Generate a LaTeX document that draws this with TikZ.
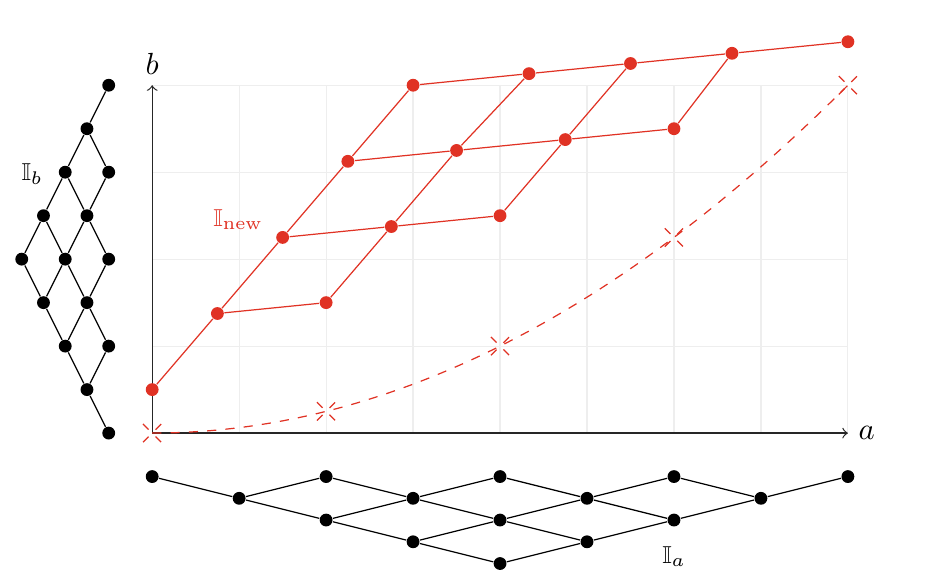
\documentclass[tikz,border=0pt]{standalone}
\usepackage{amssymb}
\definecolor{newred}{RGB}{224,50,36}
\definecolor{gridgray}{RGB}{238,238,238}
\begin{document}
\begin{tikzpicture}[dot/.style={circle, fill, inner sep=0pt, minimum size=4.2pt},
  lbl/.style={font=\footnotesize},
  xmark/.pic={\draw[newred, dash pattern=on 2.6pt off 3.2pt] (-3pt,-3pt) -- (3pt,3pt);
              \draw[newred, dash pattern=on 2.6pt off 3.2pt] (-3pt,3pt) -- (3pt,-3pt);}]
\useasboundingbox (-1.75,-1.74) rectangle (8.99,4.98);
% grid and axes
\draw[gridgray] (0,0) grid (8,4);
\coordinate (org) at (0,0);
\coordinate (aend) at (8,0);
\coordinate (bend) at (0,4);
\draw[->, black!85](org) -- (aend) node[right, black]{$a$};
\draw[->, black!85](org) -- (bend) node[above, black]{$b$};
% the curve
\draw[newred, dashed] plot[domain=0:8, samples=60] (\x,{\x*\x/16});
\pic at (0,0) {xmark};
\pic at (2,0.25) {xmark};
\pic at (4,1) {xmark};
\pic at (6,2.25) {xmark};
\pic at (8,4) {xmark};

% I_a
\node[dot] (aid0) at (0,-0.5){};
\node[dot] (aid1) at (1,-0.75){};
\node[dot] (aid2) at (2,-0.5){};
\node[dot] (aid3) at (2,-1){};
\node[dot] (aid4) at (3,-0.75){};
\node[dot] (aid5) at (4,-0.5){};
\node[dot] (aid6) at (3,-1.25){};
\node[dot] (aid7) at (4,-1){};
\node[dot] (aid8) at (5,-0.75){};
\node[dot] (aid9) at (6,-0.5){};
\node[dot] (aid10) at (4,-1.5){};
\node[dot] (aid11) at (5,-1.25){};
\node[dot] (aid12) at (6,-1){};
\node[dot] (aid13) at (7,-0.75){};
\node[dot] (aid14) at (8,-0.5){};
\draw[](aid0) -- (aid1);
\draw[](aid1) -- (aid2);
\draw[](aid1) -- (aid3);
\draw[](aid2) -- (aid4);
\draw[](aid3) -- (aid4);
\draw[](aid4) -- (aid5);
\draw[](aid3) -- (aid6);
\draw[](aid4) -- (aid7);
\draw[](aid5) -- (aid8);
\draw[](aid6) -- (aid7);
\draw[](aid7) -- (aid8);
\draw[](aid8) -- (aid9);
\draw[](aid6) -- (aid10);
\draw[](aid7) -- (aid11);
\draw[](aid8) -- (aid12);
\draw[](aid9) -- (aid13);
\draw[](aid10) -- (aid11);
\draw[](aid11) -- (aid12);
\draw[](aid12) -- (aid13);
\draw[](aid13) -- (aid14);
\node[lbl] (alab) at (6,-1.42){$\mathbb{I}_a$};

% I_b
\node[dot] (bid0) at (-0.5,0){};
\node[dot] (bid1) at (-0.75,0.5){};
\node[dot] (bid2) at (-0.5,1){};
\node[dot] (bid3) at (-1,1){};
\node[dot] (bid4) at (-0.75,1.5){};
\node[dot] (bid5) at (-0.5,2){};
\node[dot] (bid6) at (-1.25,1.5){};
\node[dot] (bid7) at (-1,2){};
\node[dot] (bid8) at (-0.75,2.5){};
\node[dot] (bid9) at (-0.5,3){};
\node[dot] (bid10) at (-1.5,2){};
\node[dot] (bid11) at (-1.25,2.5){};
\node[dot] (bid12) at (-1,3){};
\node[dot] (bid13) at (-0.75,3.5){};
\node[dot] (bid14) at (-0.5,4){};
\draw[](bid0) -- (bid1);
\draw[](bid1) -- (bid2);
\draw[](bid1) -- (bid3);
\draw[](bid2) -- (bid4);
\draw[](bid3) -- (bid4);
\draw[](bid4) -- (bid5);
\draw[](bid3) -- (bid6);
\draw[](bid4) -- (bid7);
\draw[](bid5) -- (bid8);
\draw[](bid6) -- (bid7);
\draw[](bid7) -- (bid8);
\draw[](bid8) -- (bid9);
\draw[](bid6) -- (bid10);
\draw[](bid7) -- (bid11);
\draw[](bid8) -- (bid12);
\draw[](bid9) -- (bid13);
\draw[](bid10) -- (bid11);
\draw[](bid11) -- (bid12);
\draw[](bid12) -- (bid13);
\draw[](bid13) -- (bid14);
\node[lbl] (blab) at (-1.38,2.98){$\mathbb{I}_b$};

% I_new
\node[dot, newred] (nid0) at (0,0.5){};
\node[dot, newred] (nid1) at (0.75,1.375){};
\node[dot, newred] (nid2) at (2,1.5){};
\node[dot, newred] (nid3) at (1.5,2.25){};
\node[dot, newred] (nid4) at (2.75,2.375){};
\node[dot, newred] (nid5) at (4,2.5){};
\node[dot, newred] (nid6) at (2.25,3.125){};
\node[dot, newred] (nid7) at (3.5,3.25){};
\node[dot, newred] (nid8) at (4.75,3.375){};
\node[dot, newred] (nid9) at (6,3.5){};
\node[dot, newred] (nid10) at (3,4){};
\node[dot, newred] (nid11) at (4.333,4.133){};
\node[dot, newred] (nid12) at (5.5,4.25){};
\node[dot, newred] (nid13) at (6.667,4.367){};
\node[dot, newred] (nid14) at (8,4.5){};
\draw[newred](nid0) -- (nid1);
\draw[newred](nid1) -- (nid2);
\draw[newred](nid1) -- (nid3);
\draw[newred](nid2) -- (nid4);
\draw[newred](nid3) -- (nid4);
\draw[newred](nid4) -- (nid5);
\draw[newred](nid3) -- (nid6);
\draw[newred](nid4) -- (nid7);
\draw[newred](nid5) -- (nid8);
\draw[newred](nid6) -- (nid7);
\draw[newred](nid7) -- (nid8);
\draw[newred](nid8) -- (nid9);
\draw[newred](nid6) -- (nid10);
\draw[newred](nid7) -- (nid11);
\draw[newred](nid8) -- (nid12);
\draw[newred](nid9) -- (nid13);
\draw[newred](nid10) -- (nid11);
\draw[newred](nid11) -- (nid12);
\draw[newred](nid12) -- (nid13);
\draw[newred](nid13) -- (nid14);
\node[lbl, newred] (nlab) at (0.99,2.45){$\mathbb{I}_{\mathrm{new}}$};

\end{tikzpicture}
\end{document}
